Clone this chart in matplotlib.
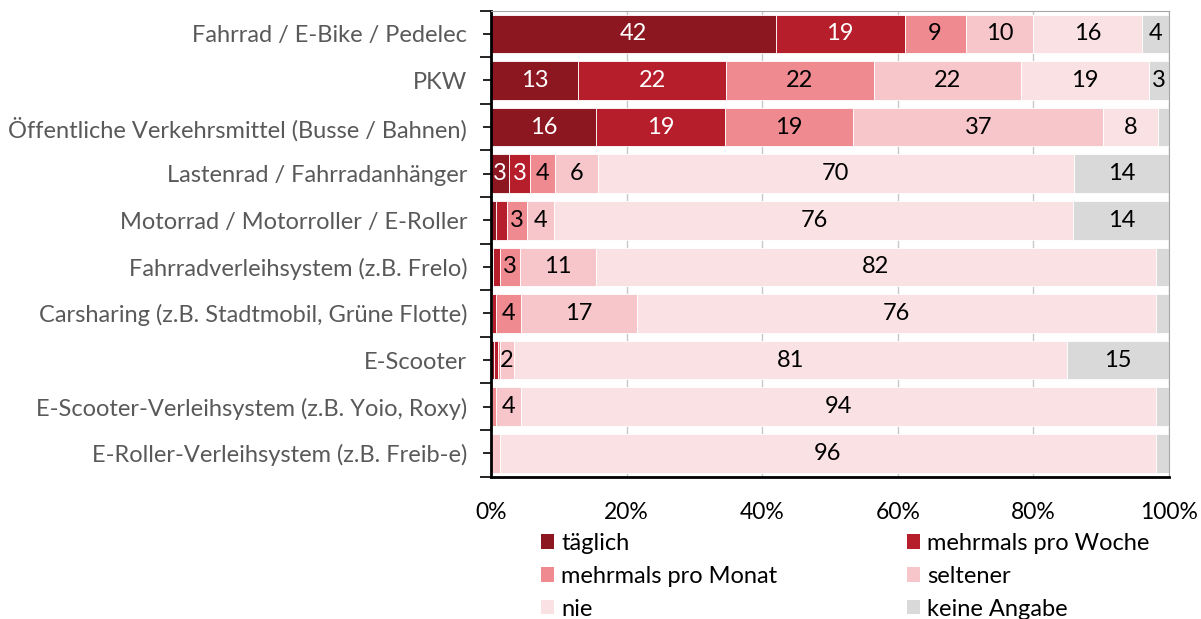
import numpy as np
import matplotlib
matplotlib.use("Agg")
import matplotlib.pyplot as plt
from matplotlib.patches import Patch
from matplotlib.ticker import FixedLocator, FuncFormatter

plt.rcParams['font.family'] = ['Lato', 'DejaVu Sans']

# data (percent of respondents)
categories = ["Fahrrad / E-Bike / Pedelec", "PKW",
              "Öffentliche Verkehrsmittel (Busse / Bahnen)",
              "Lastenrad / Fahrradanhänger", "Motorrad / Motorroller / E-Roller",
              "Fahrradverleihsystem (z.B. Frelo)",
              "Carsharing (z.B. Stadtmobil, Grüne Flotte)", "E-Scooter",
              "E-Scooter-Verleihsystem (z.B. Yoio, Roxy)",
              "E-Roller-Verleihsystem (z.B. Freib-e)"]
taeglich = [42, 13, 15.6, 2.7, 0.8, 0.3, 0.1, 0.4, 0.0, 0.0]
woche = [19, 22, 19, 3, 1.5, 1.0, 0.7, 0.6, 0.2, 0.0]
monat = [9, 22, 19, 3.7, 3, 3, 3.6, 0.3, 0.6, 0.0]
seltener = [10, 22, 37, 6.3, 4, 11, 17, 2.1, 3.6, 1.3]
nie = [16, 19, 8, 70, 76, 82, 76, 81, 94, 96]
keine = [4, 3, 1.7, 14, 14, 1.9, 1.9, 15, 1.9, 1.9]

series_names = ["täglich", "mehrmals pro Woche", "mehrmals pro Monat",
                "seltener", "nie", "keine Angabe"]
colors = ["#8C1720", "#B71E2C", "#EE8A90", "#F6C6CA", "#FAE1E4", "#D9D9D9"]
text_colors = ["white", "white", "black", "black", "black", "black"]

data = np.array([taeglich, woche, monat, seltener, nie, keine], dtype=float)
shares = data / data.sum(axis=0) * 100  # 100% stacked

fig = plt.figure(figsize=(12.01, 6.19), dpi=100)
ax = fig.add_axes([0.4088, 0.2302, 0.5646, 0.7527])

y = np.arange(len(categories))
left = np.zeros(len(categories))
for i in range(len(series_names)):
    ax.barh(y, shares[i], left=left, height=0.83, color=colors[i],
            edgecolor="white", linewidth=0.6, zorder=2)
    for j in range(len(categories)):
        v = data[i, j]
        if v >= 2:
            ax.text(left[j] + shares[i, j] / 2, y[j], f"{v:.0f}",
                    ha="center", va="center", fontsize=17,
                    color=text_colors[i], zorder=3)
    left += shares[i]

ax.set_xlim(0, 100)
ax.set_ylim(len(categories) - 0.5, -0.5)
ax.set_xticks(np.arange(0, 101, 20))
ax.xaxis.set_major_formatter(FuncFormatter(lambda v, p: f"{v:.0f}%"))
ax.tick_params(axis="x", length=0, pad=18, labelsize=16.5, colors="black")
ax.grid(axis="x", color="#C8C8C8", linewidth=1, zorder=0)
ax.set_axisbelow(True)

ax.set_yticks(y)
ax.set_yticklabels(categories)
ax.yaxis.set_minor_locator(FixedLocator(np.arange(len(categories) + 1) - 0.5))
ax.tick_params(axis="y", which="major", length=6, width=1.2, pad=11,
               labelsize=17, labelcolor="#595959")
ax.tick_params(axis="y", which="minor", length=8, width=1.2)

ax.spines["left"].set_linewidth(2)
ax.spines["bottom"].set_linewidth(2)
ax.spines["top"].set_color("#A6A6A6")
ax.spines["right"].set_color("#A6A6A6")

handles = [Patch(facecolor=c) for c in colors]
order = [0, 2, 4, 1, 3, 5]
fig.legend([handles[k] for k in order], [series_names[k] for k in order],
           ncol=2, loc="upper left", bbox_to_anchor=(0.4505, 0.139),
           frameon=False, fontsize=17, handlelength=0.55, handleheight=0.55,
           handletextpad=0.3, labelspacing=0.5, columnspacing=5.5,
           borderaxespad=0, borderpad=0)

fig.savefig("out.png", dpi=100)
